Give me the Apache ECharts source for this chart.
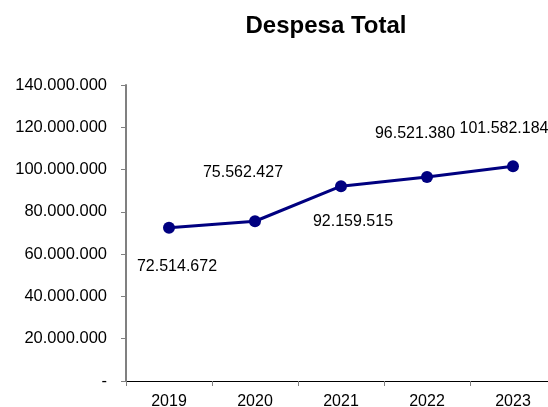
<!DOCTYPE html>
<html><head><meta charset="utf-8">
<script src="https://cdn.jsdelivr.net/npm/echarts@6/dist/echarts.min.js"></script>
<style>html,body{margin:0;padding:0;background:#fff}#c{width:548px;height:407px}</style>
</head><body><div id="c"></div>
<script>
const categories = ['2019','2020','2021','2022','2023'];
const despesa = [72514672, 75562427, 92159515, 96521380, 101582184];
const labelOffsets = [[8,39],[-12,-49],[12,35],[-12,-43],[-9,-38]];

function fmt(v){
  if (v === 0) return '-';
  return String(Math.round(v)).replace(/\B(?=(\d{3})+(?!\d))/g,'.');
}
const font = 'Liberation Sans, Arial, sans-serif';
const chart = echarts.init(document.getElementById('c'));
chart.setOption({
  animation:false,
  title:{text:'Despesa Total',left:321,top:9,textAlign:'center',
    textStyle:{fontFamily:font,fontSize:24,fontWeight:'bold',color:'#000'}},
  grid:{left:126,top:85,width:430,bottom:26,containLabel:false,outerBoundsMode:'none'},
  xAxis:{type:'category',data:categories,boundaryGap:true,
    axisLine:{lineStyle:{color:'#000',width:1}},
    axisTick:{show:true,length:5,lineStyle:{color:'#808080'}},
    axisLabel:{fontFamily:font,fontSize:16,color:'#000',margin:13}},
  yAxis:{type:'value',min:0,max:140000000,interval:20000000,
    axisLine:{show:true,lineStyle:{color:'#808080',width:2}},
    axisTick:{show:true,length:5,lineStyle:{color:'#808080'}},
    splitLine:{show:false},
    axisLabel:{fontFamily:font,fontSize:16.5,color:'#000',margin:19,formatter:fmt}},
  series:[{type:'line',
    data:despesa.map((v,i)=>({value:v,label:{show:true,position:'inside',offset:labelOffsets[i]}})),
    symbol:'circle',symbolSize:12,
    lineStyle:{color:'#000080',width:3},
    itemStyle:{color:'#000080'},
    label:{fontFamily:font,fontSize:16,color:'#000',formatter:p=>fmt(p.value)}}]
});
</script></body></html>
